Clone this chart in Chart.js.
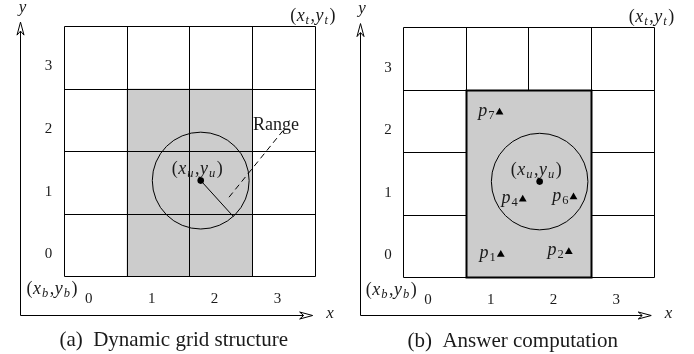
<!DOCTYPE html>
<html>
<head>
<meta charset="utf-8">
<script src="https://cdn.jsdelivr.net/npm/chart.js@4.4.1/dist/chart.umd.min.js"></script>
<style>
  html, body { margin: 0; padding: 0; background: #fff; }
  body { width: 694px; height: 354px; position: relative; overflow: hidden; }
  canvas { position: absolute; }
  #panel-a { left: 0; top: 0; }
  #panel-b { left: 339px; top: 1px; }
</style>
</head>
<body>
<canvas id="panel-a" width="347" height="354"></canvas>
<canvas id="panel-b" width="347" height="354"></canvas>
<script>
// grid of 4 x 4 cells, cell (i, j) covers [i, i+1] x [j, j+1]
const GRID_SIZE = 4;
const TICK_LABELS = ['0', '1', '2', '3'];
const SHADED_X = [1, 3];
const SHADED_Y = [0, 3];

// query point (x_u, y_u) and its range circle
const QUERY_X = 2.18;
const QUERY_Y = 1.53;
const RANGE_R = 0.77;
const RANGE_END_X = 2.70;
const RANGE_END_Y = 0.955;
const LEADER_X = [2.63, 3.49];
const LEADER_Y = [1.265, 2.33];

// objects shown in panel (b)
const POINT_NAMES = ['1', '2', '4', '6', '7'];
const POINT_X = [1.56, 2.645, 1.91, 2.72, 1.54];
const POINT_Y = [0.362, 0.406, 1.247, 1.282, 2.642];

const CAPTIONS = { a: '(a)  Dynamic grid structure', b: '(b)  Answer computation' };

const SHADE = '#cccccc';
const INK = '#000';
const TEXT = '#1a1a1a';
const SERIF = '"Liberation Serif", "Times New Roman", serif';

// small math label: r = upright, i = italic, s = italic subscript, n = upright subscript
function mathText(ctx, parts, x, y, align) {
    const fonts = {
        r: '18px ' + SERIF,
        i: 'italic 18px ' + SERIF,
        s: 'italic 12.5px ' + SERIF,
        n: '12.5px ' + SERIF
    };
    const gap = { r: 0.5, i: 1, s: 1.5, n: 0.5 };
    let w = 0;
    parts.forEach(([t, k]) => { ctx.font = fonts[k]; w += ctx.measureText(t).width + gap[k]; });
    let cx = align === 'center' ? x - w / 2 : align === 'right' ? x - w : x;
    ctx.textAlign = 'left';
    ctx.textBaseline = 'alphabetic';
    parts.forEach(([t, k]) => {
        ctx.font = fonts[k];
        ctx.fillText(t, cx, (k === 's' || k === 'n') ? y + 3 : y);
        cx += ctx.measureText(t).width + gap[k];
    });
}

const pair = (a, b) => [['(', 'r'], ['x', 'i'], [a, 's'], [',', 'r'], ['y', 'i'], [b, 's'], [')', 'r']];

function arrowHead(ctx, tx, ty, dir) {
    // open LaTeX-like head, dir: 'up' or 'right'
    ctx.save();
    ctx.translate(tx, ty);
    if (dir === 'right') ctx.rotate(Math.PI / 2);
    ctx.beginPath();
    ctx.moveTo(0, 0);
    ctx.lineTo(-3.5, 13);
    ctx.lineTo(0, 9);
    ctx.lineTo(3.5, 13);
    ctx.closePath();
    ctx.fillStyle = '#fff';
    ctx.fill();
    ctx.stroke();
    ctx.restore();
}

const diagram = {
    id: 'diagram',
    beforeDatasetsDraw(chart, args, opts) {
        const { ctx, scales: { x, y } } = chart;
        const px = v => x.getPixelForValue(v);
        const py = v => y.getPixelForValue(v);
        const snap = v => Math.round(v) + 0.5;
        const panel = opts.panel;

        const sx0 = px(SHADED_X[0]), sx1 = px(SHADED_X[1]);
        const sy0 = py(SHADED_Y[1]), sy1 = py(SHADED_Y[0]);

        ctx.save();
        ctx.strokeStyle = INK;
        ctx.lineWidth = 1;

        if (panel === 'a') {
            ctx.fillStyle = SHADE;
            ctx.fillRect(sx0, sy0, sx1 - sx0, sy1 - sy0);
        }

        // grid lines
        ctx.beginPath();
        for (let i = 0; i <= GRID_SIZE; i++) {
            ctx.moveTo(snap(px(i)), snap(py(0)));
            ctx.lineTo(snap(px(i)), snap(py(GRID_SIZE)));
            ctx.moveTo(snap(px(0)), snap(py(i)));
            ctx.lineTo(snap(px(GRID_SIZE)), snap(py(i)));
        }
        ctx.stroke();

        if (panel === 'b') {
            ctx.fillStyle = SHADE;
            ctx.fillRect(snap(sx0), snap(sy0), snap(sx1) - snap(sx0), snap(sy1) - snap(sy0));
            ctx.lineWidth = 2;
            ctx.strokeRect(snap(sx0), snap(sy0), snap(sx1) - snap(sx0), snap(sy1) - snap(sy0));
            ctx.lineWidth = 1;
        }

        // range circle
        ctx.beginPath();
        ctx.arc(px(QUERY_X), py(QUERY_Y), px(RANGE_R) - px(0), 0, Math.PI * 2);
        ctx.stroke();

        // axes with open heads
        const ax = snap(px(-0.69)), ay = snap(py(-0.61));
        const yTip = py(4.06), xTip = px(3.96);
        ctx.beginPath();
        ctx.moveTo(ax, ay);
        ctx.lineTo(ax, yTip + 6);
        ctx.moveTo(ax, ay);
        ctx.lineTo(xTip - 6, ay);
        ctx.stroke();
        arrowHead(ctx, ax, yTip, 'up');
        arrowHead(ctx, xTip, ay, 'right');

        // tick labels
        ctx.fillStyle = TEXT;
        ctx.font = '15px ' + SERIF;
        ctx.textAlign = 'center';
        ctx.textBaseline = 'alphabetic';
        TICK_LABELS.forEach((t, i) => {
            ctx.fillText(t, px(-0.24), py(i + 0.29));
            ctx.fillText(t, px(i + 0.4), py(-0.43));
        });

        // axis names and corner labels
        ctx.font = 'italic 17px ' + SERIF;
        ctx.fillText('y', px(-0.655), py(4.222));
        ctx.fillText('x', px(4.237), py(-0.662));
        mathText(ctx, pair('b', 'b'), px(-0.182), py(-0.28), 'center');
        mathText(ctx, pair('t', 't'), px(3.967), py(4.079), 'center');
        mathText(ctx, pair('u', 'u'), px(2.13), py(1.635), 'center');

        if (panel === 'a') {
            ctx.font = '18px ' + SERIF;
            ctx.textAlign = 'left';
            ctx.fillText('Range', px(3.01), py(2.344));
        }

        // caption
        ctx.font = '21px ' + SERIF;
        ctx.textAlign = 'center';
        ctx.fillText(CAPTIONS[panel], px(1.75), py(-1.111));
        ctx.restore();
    },
    afterDatasetsDraw(chart, args, opts) {
        if (opts.panel !== 'b') return;
        const { ctx, scales: { x, y } } = chart;
        ctx.save();
        ctx.fillStyle = TEXT;
        POINT_NAMES.forEach((n, i) => {
            mathText(ctx, [['p', 'i'], [n, 'n']], x.getPixelForValue(POINT_X[i]) - 4.5, y.getPixelForValue(POINT_Y[i]) + 3.5, 'right');
        });
        ctx.restore();
    }
};

function makePanel(id, panel, datasets) {
    return new Chart(document.getElementById(id), {
        type: 'scatter',
        data: { datasets: datasets },
        options: {
            responsive: false,
            animation: false,
            events: [],
            layout: { padding: 3 },
            scales: {
                x: { type: 'linear', display: false, min: -0.9486, max: 4.4427 },
                y: { type: 'linear', display: false, min: -1.1746, max: 4.3492 }
            },
            plugins: {
                legend: { display: false },
                tooltip: { enabled: false },
                diagram: { panel: panel }
            }
        },
        plugins: [diagram]
    });
}

const queryDot = {
    data: [{ x: QUERY_X, y: QUERY_Y }],
    pointStyle: 'circle',
    pointRadius: 3.3,
    backgroundColor: INK,
    borderWidth: 0
};

makePanel('panel-a', 'a', [
    queryDot,
    {
        data: [{ x: QUERY_X, y: QUERY_Y }, { x: RANGE_END_X, y: RANGE_END_Y }],
        showLine: true,
        borderColor: INK,
        borderWidth: 1,
        pointRadius: 0
    },
    {
        data: LEADER_X.map((v, i) => ({ x: v, y: LEADER_Y[i] })),
        showLine: true,
        borderColor: INK,
        borderWidth: 1,
        borderDash: [6, 4],
        pointRadius: 0
    }
]);

makePanel('panel-b', 'b', [
    queryDot,
    {
        data: POINT_X.map((v, i) => ({ x: v, y: POINT_Y[i] })),
        pointStyle: 'triangle',
        pointRadius: 4.5,
        backgroundColor: INK,
        borderWidth: 0
    }
]);
</script>
</body>
</html>
